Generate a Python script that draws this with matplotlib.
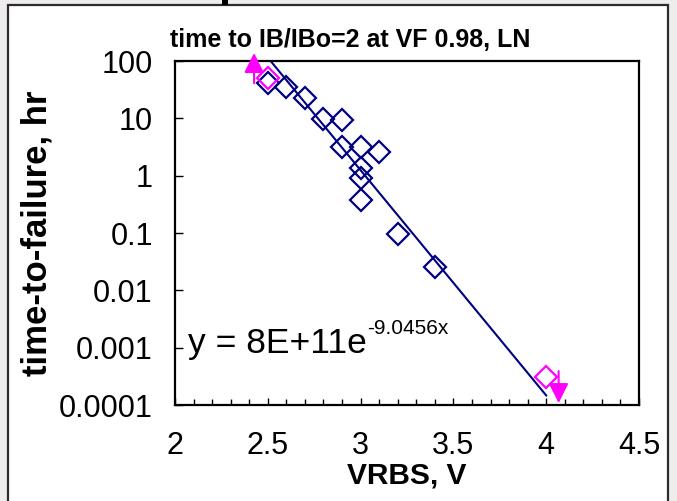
import matplotlib.pyplot as plt
import numpy as np
from matplotlib.patches import Rectangle
from matplotlib.ticker import MultipleLocator, LogLocator, FixedFormatter, FixedLocator

plt.rcParams['font.family'] = ['Liberation Sans', 'DejaVu Sans']

# measured points (blue diamonds)
vrbs = [2.5, 2.6, 2.7, 2.8, 2.9, 2.9, 3.0, 3.1, 3.0, 3.0, 3.0, 3.2, 3.4]
ttf = [41, 35, 23, 9.6, 9.4, 3.1, 3.1, 2.6, 1.34, 0.91, 0.38, 0.096, 0.026]

# censored points (magenta) and their arrows
cens_x = [2.5, 4.0]
cens_y = [50, 3.1e-4]
arrow_x = [2.426, 4.067]
arrow_from = [41, 3.9e-4]
arrow_to = [138, 1.08e-4]

# trendline y = A*exp(B*x)
fit_a = 7.6e11
fit_b = -9.0456
fit_range = [2.5, 4.0]

yticks = [1e-4, 1e-3, 1e-2, 1e-1, 1, 10, 100]
ylabels = ['0.0001', '0.001', '0.01', '0.1', '1', '10', '100']
xticks = [2, 2.5, 3, 3.5, 4, 4.5]
xlabels = ['2', '2.5', '3', '3.5', '4', '4.5']

navy = '#000080'
magenta = '#FF00FF'

fig = plt.figure(figsize=(6.77, 5.01), dpi=100)
fig.patch.set_facecolor('#efedec')
fig.patches.append(Rectangle((8 / 677, -0.05), 660 / 677, (501 - 5) / 501 + 0.05,
                             transform=fig.transFigure, facecolor='white',
                             edgecolor='#2b2b2b', linewidth=1.6, zorder=-2))
fig.patches.append(Rectangle((222 / 677, (501 - 5) / 501), 6 / 677, 6 / 501,
                             transform=fig.transFigure, facecolor='black',
                             edgecolor='none', zorder=-2))

ax = fig.add_axes([175 / 677, 1 - 405 / 501, 464 / 677, 344 / 501])
ax.set_zorder(1)
ax.set_facecolor('white')
ax.set_yscale('log')
ax.set_xlim(2, 4.5)
ax.set_ylim(1e-4, 100)

xf = np.linspace(fit_range[0], fit_range[1], 200)
ax.plot(xf, fit_a * np.exp(fit_b * xf), color=navy, lw=1.5, zorder=2)

ax.plot(vrbs, ttf, linestyle='none', marker='D', ms=11, mfc='none',
        mec=navy, mew=1.6, zorder=3)
ax.plot(cens_x, cens_y, linestyle='none', marker='D', ms=11, mfc='none',
        mec=magenta, mew=1.6, zorder=4, clip_on=False)

for xa, y0, y1 in zip(arrow_x, arrow_from, arrow_to):
    ax.annotate('', xy=(xa, y1), xytext=(xa, y0), annotation_clip=False,
                arrowprops=dict(arrowstyle='-|>,head_length=0.6,head_width=0.3',
                                mutation_scale=20, color=magenta, lw=1.5,
                                shrinkA=0, shrinkB=0), zorder=5)

ax.yaxis.set_major_locator(FixedLocator(yticks))
ax.yaxis.set_major_formatter(FixedFormatter(ylabels))
ax.yaxis.set_minor_locator(LogLocator(base=10, subs=np.arange(2, 10)))
ax.xaxis.set_major_locator(FixedLocator(xticks))
ax.xaxis.set_major_formatter(FixedFormatter(xlabels))
ax.xaxis.set_minor_locator(MultipleLocator(0.1))

ax.tick_params(axis='both', which='both', direction='in', labelsize=22, colors='black')
ax.tick_params(axis='y', which='major', length=6, width=1, pad=16)
ax.tick_params(axis='y', which='minor', length=4.5, width=1, labelleft=False)
ax.tick_params(axis='x', which='major', length=5, width=1, pad=19)
ax.tick_params(axis='x', which='minor', length=4, width=1)
for s in ax.spines.values():
    s.set_linewidth(1.6)

ax.set_xlabel('VRBS, V', fontsize=21.5, fontweight='bold', labelpad=0)
ax.set_ylabel('time-to-failure, hr', fontsize=25, fontweight='bold', labelpad=4)

fig.text(170 / 677, 1 - 47 / 501, 'time to IB/IBo=2 at VF 0.98, LN',
         fontsize=18, fontweight='bold', ha='left', va='baseline')

eq = ax.text(0.028, 0.151, 'y = 8E+11e', transform=ax.transAxes,
             fontsize=25.5, ha='left', va='baseline')
ax.annotate('-9.0456x', xy=(1, 0), xycoords=eq, xytext=(0.5, 18.5),
            textcoords='offset points', fontsize=15, ha='left', va='baseline')

fig.savefig('out.png', dpi=100, facecolor=fig.get_facecolor())
